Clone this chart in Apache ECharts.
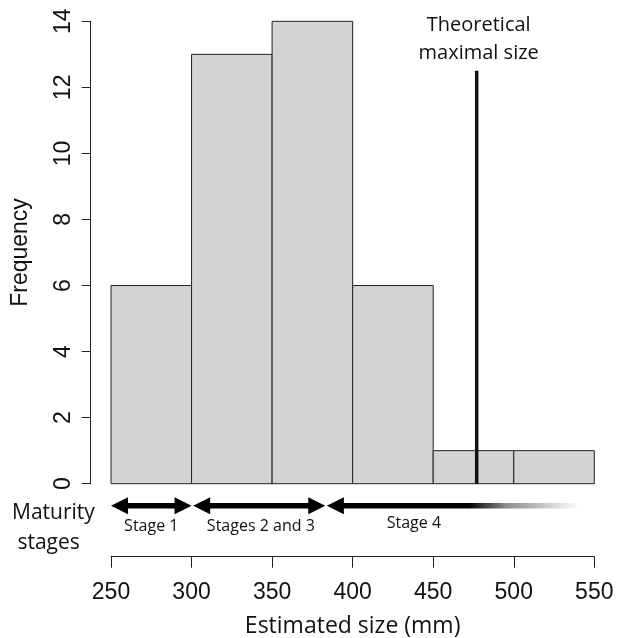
<!DOCTYPE html>
<html>
<head>
<meta charset="utf-8">
<script src="https://cdn.jsdelivr.net/npm/echarts@6/dist/echarts.min.js"></script>
<style>
html,body{margin:0;padding:0;background:#fff;}
#chart{width:617px;height:638px;}
</style>
</head>
<body>
<div id="chart"></div>
<script>
// Histogram bins (mm) and frequencies
var binStart = [250, 300, 350, 400, 450, 500];
var binEnd   = [300, 350, 400, 450, 500, 550];
var binCount = [6, 13, 14, 6, 1, 1];

// Theoretical maximal size (mm) and the line's top (frequency units)
var maxSize = 477;
var maxLineTop = 12.5;

// Maturity stages along the size axis (mm)
var stageNames  = ['Stage 1', 'Stages 2 and 3', 'Stage 4'];
var stageStart  = [250, 301, 384];
var stageEnd    = [300, 383, 539];
var stageLabelX = [275, 343, 438];
var stageRightHead = [1, 1, 0];
var stage4SolidEnd = 472;

// Axis ticks
var xTicks = [250, 300, 350, 400, 450, 500, 550];
var yTicks = [0, 2, 4, 6, 8, 10, 12, 14];

var chart = echarts.init(document.getElementById('chart'));

var histData = binStart.map(function (s, i) { return [s, binEnd[i], binCount[i]]; });
var stageData = stageNames.map(function (n, i) {
  return [stageStart[i], stageEnd[i], stageLabelX[i], stageRightHead[i], i];
});

var FONT_R = 'Liberation Sans';
var FONT_M = 'Open Sans';

var option = {
  backgroundColor: '#fff',
  animation: false,
  grid: { left: 111, right: 22.7, top: 21.3, bottom: 154.3, outerBoundsMode: 'none', containLabel: false },
  xAxis: {
    type: 'value', min: 250, max: 550, interval: 50,
    offset: 73,
    axisLine: { show: true, onZero: false, lineStyle: { color: '#222', width: 1 } },
    axisTick: { show: true, length: 11, lineStyle: { color: '#222', width: 1 } },
    axisLabel: { fontFamily: FONT_R, fontSize: 23, color: '#111', margin: 24 },
    splitLine: { show: false },
    name: 'Estimated size (mm)', nameLocation: 'middle', nameGap: 58,
    nameTextStyle: { fontFamily: FONT_M, fontSize: 23, color: '#111' }
  },
  yAxis: {
    type: 'value', min: 0, max: 14, interval: 2,
    offset: 20.3,
    axisLine: { show: true, onZero: false, lineStyle: { color: '#222', width: 1 } },
    axisTick: { show: true, length: 9, lineStyle: { color: '#222', width: 1 } },
    axisLabel: { fontFamily: FONT_R, fontSize: 23, color: '#111', rotate: 90, margin: 16 },
    splitLine: { show: false },
    name: 'Frequency', nameLocation: 'middle', nameGap: 59,
    nameTextStyle: { fontFamily: FONT_R, fontSize: 23, color: '#111' }
  },
  graphic: [{
    type: 'text', left: 12, top: 498,
    style: { text: 'Maturity\n stages', font: '21px "Open Sans"', fill: '#111', lineHeight: 30, align: 'center' }
  }],
  series: [
    {
      type: 'custom', name: 'hist', data: histData,
      encode: { x: [0, 1], y: 2 },
      renderItem: function (params, api) {
        var p0 = api.coord([api.value(0), 0]);
        var p1 = api.coord([api.value(1), api.value(2)]);
        return {
          type: 'rect',
          shape: { x: p0[0], y: p1[1], width: p1[0] - p0[0], height: p0[1] - p1[1] },
          style: { fill: '#d3d3d3', stroke: '#222', lineWidth: 1 }
        };
      }
    },
    {
      type: 'custom', name: 'maxline', data: [[maxSize, maxLineTop]],
      encode: { x: 0, y: 1 },
      z: 5,
      renderItem: function (params, api) {
        var top = api.coord([api.value(0), api.value(1)]);
        var bot = api.coord([api.value(0), 0]);
        return {
          type: 'group',
          children: [
            { type: 'line', shape: { x1: top[0], y1: top[1], x2: bot[0], y2: bot[1] },
              style: { stroke: '#111', lineWidth: 3.5 } },
            { type: 'text', x: top[0] + 2, y: top[1] - 4,
              style: { text: 'Theoretical\nmaximal size', font: '20px "Open Sans"', fill: '#111',
                       align: 'center', verticalAlign: 'bottom', lineHeight: 28 } }
          ]
        };
      }
    },
    {
      type: 'custom', name: 'stages', data: stageData,
      encode: { x: [0, 1, 2] },
      clip: false,
      renderItem: function (params, api) {
        var base = api.coord([api.value(0), 0]);
        var y = base[1] + 22;
        var xl = api.coord([api.value(0), 0])[0];
        var xr = api.coord([api.value(1), 0])[0];
        var xlab = api.coord([api.value(2), 0])[0];
        var right = api.value(3);
        var idx = api.value(4);
        var hl = 17, hh = 8.5, t = 2.8;
        var pts, fill;
        if (right) {
          pts = [[xl, y], [xl + hl, y - hh], [xl + hl, y - t], [xr - hl, y - t], [xr - hl, y - hh],
                 [xr, y], [xr - hl, y + hh], [xr - hl, y + t], [xl + hl, y + t], [xl + hl, y + hh]];
          fill = '#000';
        } else {
          pts = [[xl, y], [xl + hl, y - hh], [xl + hl, y - t], [xr, y - t], [xr, y + t],
                 [xl + hl, y + t], [xl + hl, y + hh]];
          var xs = api.coord([stage4SolidEnd, 0])[0];
          var off = (xs - xl) / (xr - xl);
          fill = new echarts.graphic.LinearGradient(0, 0, 1, 0, [
            { offset: 0, color: 'rgba(0,0,0,1)' },
            { offset: off, color: 'rgba(0,0,0,1)' },
            { offset: off + (1 - off) * 0.35, color: 'rgba(0,0,0,0.45)' },
            { offset: 1, color: 'rgba(0,0,0,0.02)' }
          ]);
        }
        return {
          type: 'group',
          children: [
            { type: 'polygon', shape: { points: pts }, style: { fill: fill } },
            { type: 'text', x: xlab, y: y + (idx === 2 ? 18 : 21),
              style: { text: stageNames[idx], font: '16px "Open Sans"', fill: '#111',
                       align: 'center', verticalAlign: 'middle' } }
          ]
        };
      }
    }
  ]
};
chart.setOption(option);
</script>
</body>
</html>
